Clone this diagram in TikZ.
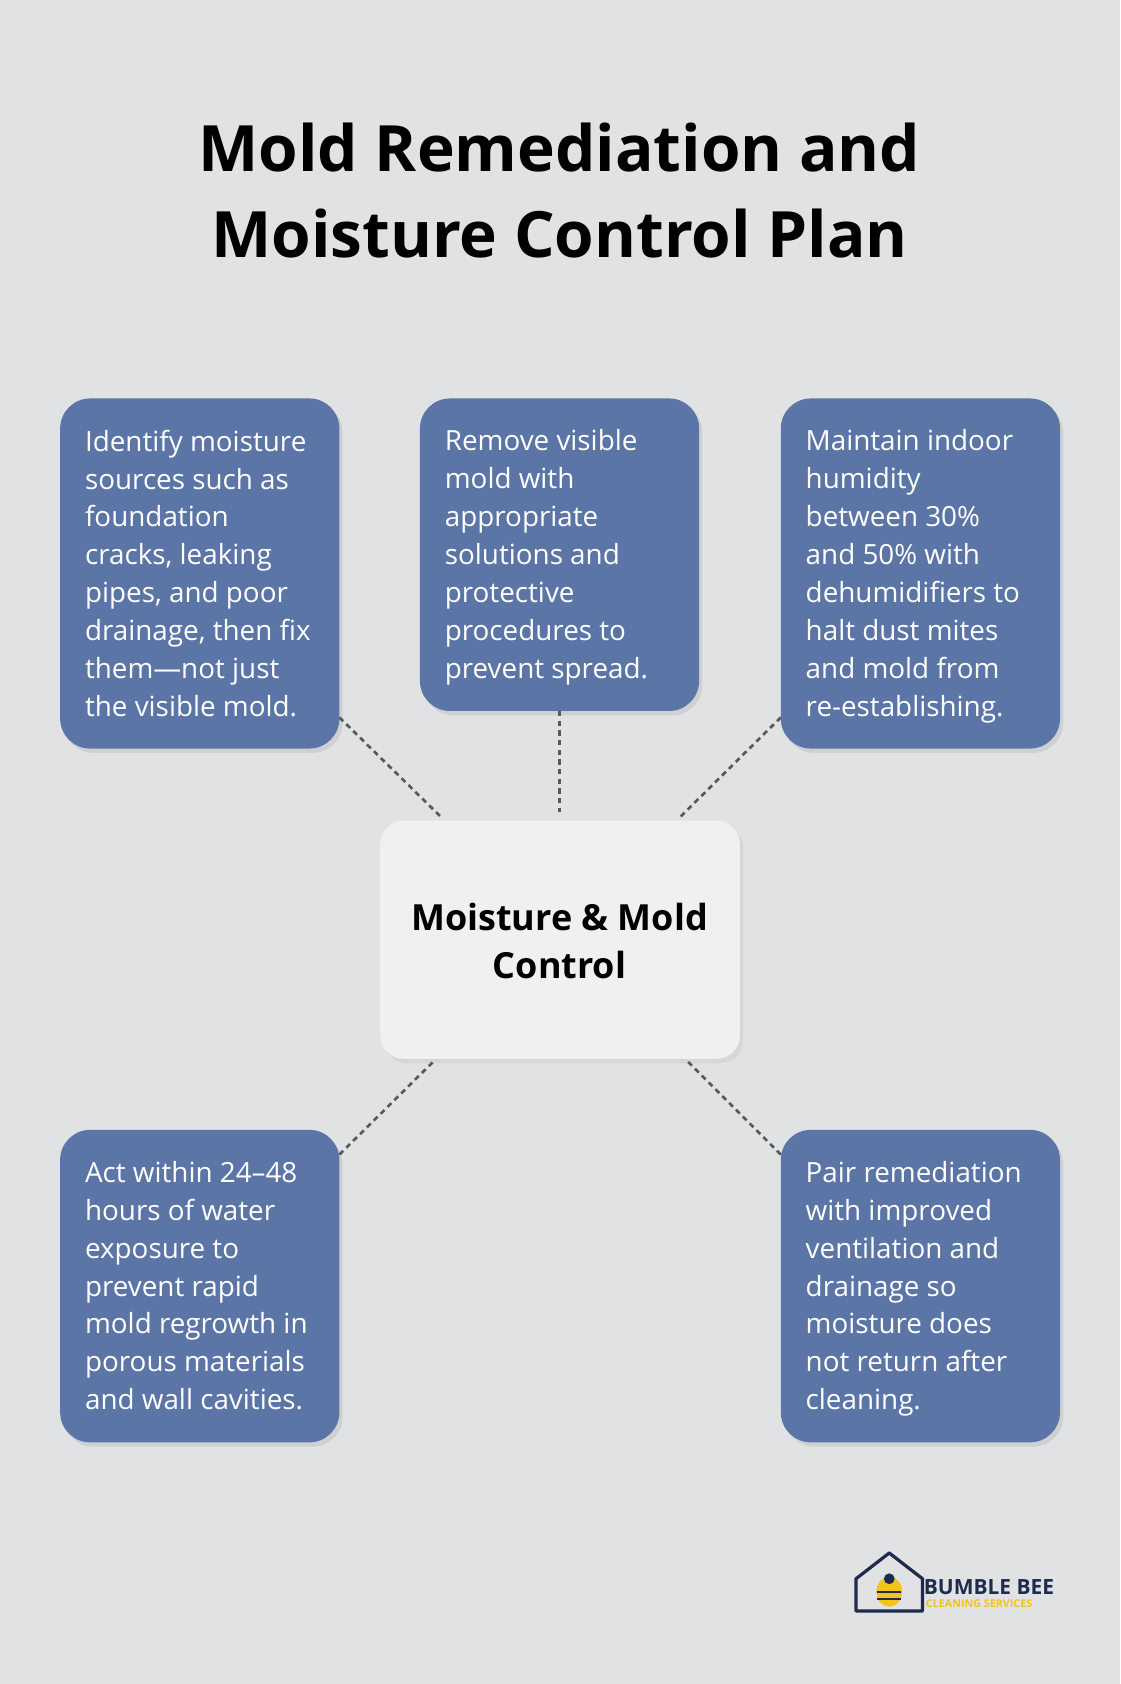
\documentclass[tikz,border=0pt]{standalone}
\usepackage{fontspec}
\setmainfont{Open Sans}
\usetikzlibrary{shadows}
\definecolor{bg}{HTML}{E1E2E3}
\definecolor{boxc}{HTML}{5B75A6}
\definecolor{cen}{HTML}{EFF0F2}
\definecolor{logo}{HTML}{1F2B4D}
\definecolor{bee}{HTML}{F2C418}
\begin{document}
\begin{tikzpicture}[x=1pt,y=-1pt,
  card/.style={fill=boxc,rounded corners=28pt,draw=none,drop shadow={shadow xshift=3pt,shadow yshift=-4pt,opacity=0.18}},
  txt/.style={anchor=north west,align=left,text=white,font=\fontsize{25.9}{35.3}\selectfont,inner sep=0pt},
  link/.style={draw=black!65,line width=2.5pt,dash pattern=on 5pt off 4pt}]
\fill[bg] (0,0) rectangle (1043,1568);
\useasboundingbox (0,0) rectangle (1043,1568);
\node[font=\fontsize{59.5}{80}\selectfont\bfseries,align=center] (title) at (521,177) {Mold Remediation and\\Moisture Control Plan};
\path[card] (56,371) rectangle (316,697);
\path[card] (391,371) rectangle (651,662);
\path[card] (727,371) rectangle (987,697);
\path[card] (56,1052) rectangle (316,1343);
\path[card] (727,1052) rectangle (987,1343);
\path[fill=cen,rounded corners=22pt,drop shadow={shadow xshift=3pt,shadow yshift=-4pt,opacity=0.12}] (354,764) rectangle (689,986);
\node[txt] (t1) at (79,400) {Identify moisture\\sources such as\\foundation\\cracks, leaking\\pipes, and poor\\drainage, then fix\\them—not just\\the visible mold.};
\node[txt] (t2) at (414,400) {Remove visible\\mold with\\appropriate\\solutions and\\protective\\procedures to\\prevent spread.};
\node[txt] (t3) at (750,400) {Maintain indoor\\humidity\\between 30\%\\and 50\% with\\dehumidifiers to\\halt dust mites\\and mold from\\re-establishing.};
\node[txt] (t4) at (79,1081) {Act within 24–48\\hours of water\\exposure to\\prevent rapid\\mold regrowth in\\porous materials\\and wall cavities.};
\node[txt] (t5) at (750,1081) {Pair remediation\\with improved\\ventilation and\\drainage so\\moisture does\\not return after\\cleaning.};
\node[font=\fontsize{33.5}{45}\selectfont\bfseries,align=center] (c) at (521,876) {Moisture \& Mold\\Control};
\coordinate (a1) at (316,668); \coordinate (b1) at (412,762);
\coordinate (a2) at (521,662); \coordinate (b2) at (521,756);
\coordinate (a3) at (727,668); \coordinate (b3) at (632,762);
\coordinate (a4) at (316,1075); \coordinate (b4) at (404,988);
\coordinate (a5) at (727,1075); \coordinate (b5) at (640,988);
\foreach \i in {1,...,5} \draw[link] (a\i) -- (b\i);
% logo
\draw[logo,line width=3pt,line join=round] (797,1500) -- (797,1470) -- (828,1446) -- (859,1470) -- (859,1500) -- cycle;
\fill[bee] (828,1482) ellipse (12pt and 14pt);
\fill[logo] (828,1470) circle (5pt);
\draw[logo,line width=2pt] (817,1482) -- (839,1482) (817,1489) -- (839,1489);
\node[anchor=west,font=\fontsize{19.5}{20}\selectfont\bfseries,text=logo,inner sep=0pt] (lg1) at (860,1478) {BUMBLE BEE};
\node[anchor=west,font=\fontsize{10}{10}\selectfont\bfseries,text=bee,inner sep=0pt] (lg2) at (862,1493) {CLEANING SERVICES};
\end{tikzpicture}
\end{document}
